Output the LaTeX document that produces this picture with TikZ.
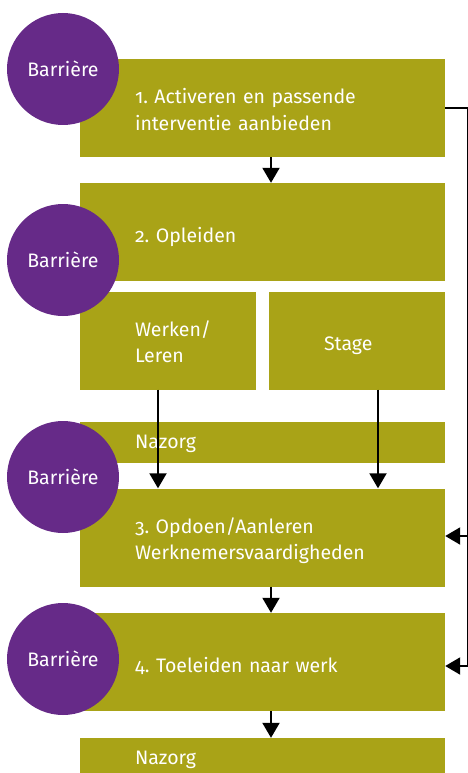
\documentclass[tikz,border=0pt]{standalone}
\usepackage{fontspec}
\setmainfont{Fira Sans}[Numbers=OldStyle]
\usetikzlibrary{arrows.meta}
\definecolor{olijf}{RGB}{169,163,23}
\definecolor{paars}{RGB}{102,42,136}
\frenchspacing

\begin{document}
\begin{tikzpicture}
				[x=1pt,y=-1pt,
				every node/.style={text=white,font=\fontsize{19.5}{26}\selectfont},
				fase/.style={fill=olijf,inner xsep=55pt,inner ysep=0pt,align=left,text width=255pt,minimum height=98pt,text height=24pt,text depth=4pt},
				tweeregels/.style={text depth=32pt},
				klein/.style={fase,text width=66pt},
				smal/.style={fase,minimum height=41pt,text height=15pt,text depth=4pt},
				barriere/.style={circle,fill=paars,minimum size=112pt,inner sep=0pt},
				pijl/.style={line width=2pt,-{Triangle[width=17pt,length=15pt]}}]
				\useasboundingbox (0,0) rectangle (468,773);
				
				\node[fase,tweeregels] (f1) at (262.5,108) {1. Activeren en passende\\interventie aanbieden};
				\node[fase] (f2) at (262.5,232) {2. Opleiden};
				\node[klein,tweeregels] (werken) at (168,340.5) {Werken/\\Leren};
				\node[klein] (stage) at (357,340.5) {Stage};
				\node[smal] (nazorg1) at (262.5,442.5) {Nazorg};
				\node[fase,tweeregels] (f3) at (262.5,537.5) {3. Opdoen/Aanleren\\Werknemersvaardigheden};
				\node[fase] (f4) at (262.5,662) {4. Toeleiden naar werk};
				\node[smal] (nazorg2) at (262.5,758.5) {Nazorg};
				
				\foreach \y [count=\i] in {69,260,477,659}
				\node[barriere] (b\i) at (63,\y) {Barrière};
				
				\coordinate (r1) at (468.3,108);
				\coordinate (r3) at (468.3,536);
				\coordinate (r4) at (468.3,666);
				
				\draw[pijl] ([xshift=8.5pt]f1.south) -- ([xshift=8.5pt]f2.north);
				\draw[pijl] ([xshift=-10pt]werken.south) -- ([xshift=-10pt]werken.south |- f3.north);
				\draw[pijl] ([xshift=21pt]stage.south) -- ([xshift=21pt]stage.south |- f3.north);
				\draw[pijl] ([xshift=8.5pt]f3.south) -- ([xshift=8.5pt]f4.north);
				\draw[pijl] ([xshift=8.5pt]f4.south) -- ([xshift=8.5pt]nazorg2.north);
				\draw[line width=2pt] (f1.east) -- (r1) -- (r4);
				\draw[pijl] (r3) -- (r3 -| f3.east);
				\draw[pijl] (r4) -- (r4 -| f4.east);
				
				\end{tikzpicture}
\end{document}
